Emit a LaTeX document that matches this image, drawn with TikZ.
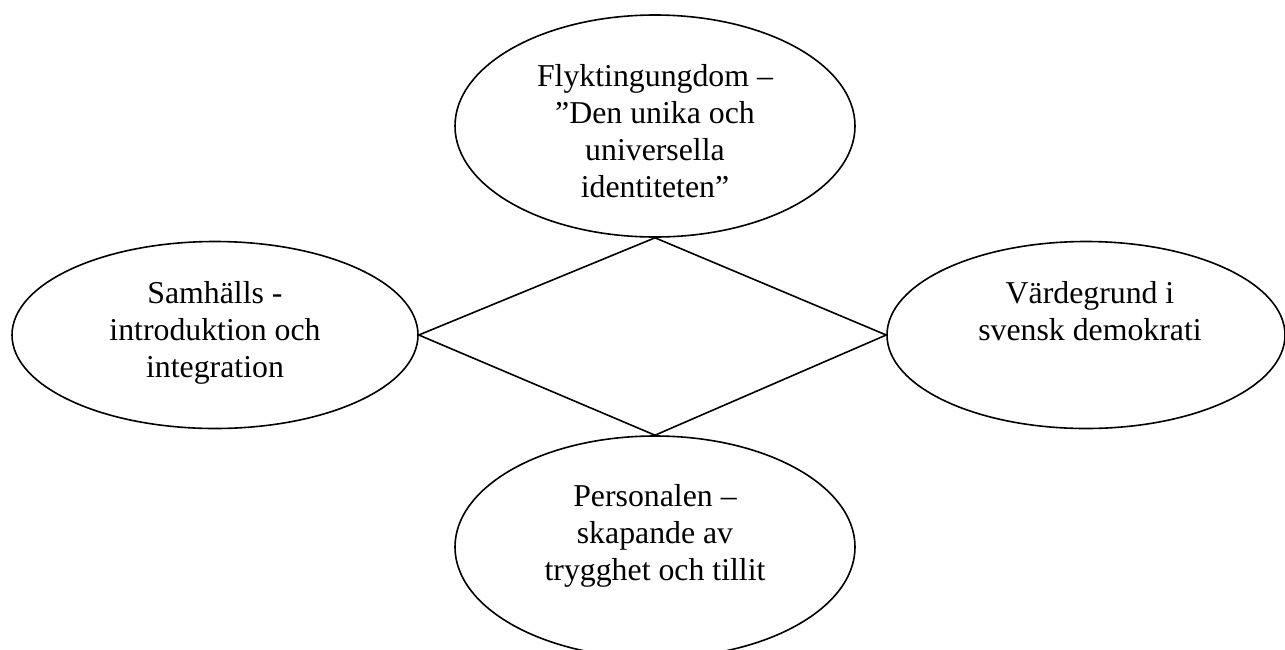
\documentclass[tikz,border=0pt]{standalone}
\usepackage{fontspec}
\setmainfont{Liberation Serif}
\usetikzlibrary{shapes.geometric}
\tikzset{
  oval/.style={draw=black, line width=1.6pt, ellipse, inner sep=0pt, minimum width=400pt, minimum height=222pt},
  lbl/.style={align=center, inner sep=0pt, font=\fontsize{31.8}{36.7}\selectfont},
  edge/.style={draw=black, line width=1.6pt}
}
\begin{document}
\begin{tikzpicture}[x=1pt,y=-1pt]
\useasboundingbox (0,0) rectangle (1285,649);
\node[oval] (T) at (655,126) {};
\node[oval, minimum width=406pt, minimum height=187pt] (L) at (215,335) {};
\node[oval, minimum width=398pt, minimum height=187pt] (R) at (1086,335) {};
\node[oval] (B) at (655,547) {};
\draw[edge] (T.south) -- (R.west) -- (B.north) -- (L.east) -- cycle;
\node[lbl, anchor=base] (tT) at (655,197) {Flyktingungdom –\\”Den unika och\\universella\\identiteten”};
\node[lbl, anchor=base] (tL) at (215,377) {Samhälls -\\introduktion och\\integration};
\node[lbl, anchor=base] (tR) at (1090,340) {Värdegrund i\\svensk demokrati};
\node[lbl, anchor=base] (tB) at (655,580) {Personalen –\\skapande av\\trygghet och tillit};
\end{tikzpicture}
\end{document}
